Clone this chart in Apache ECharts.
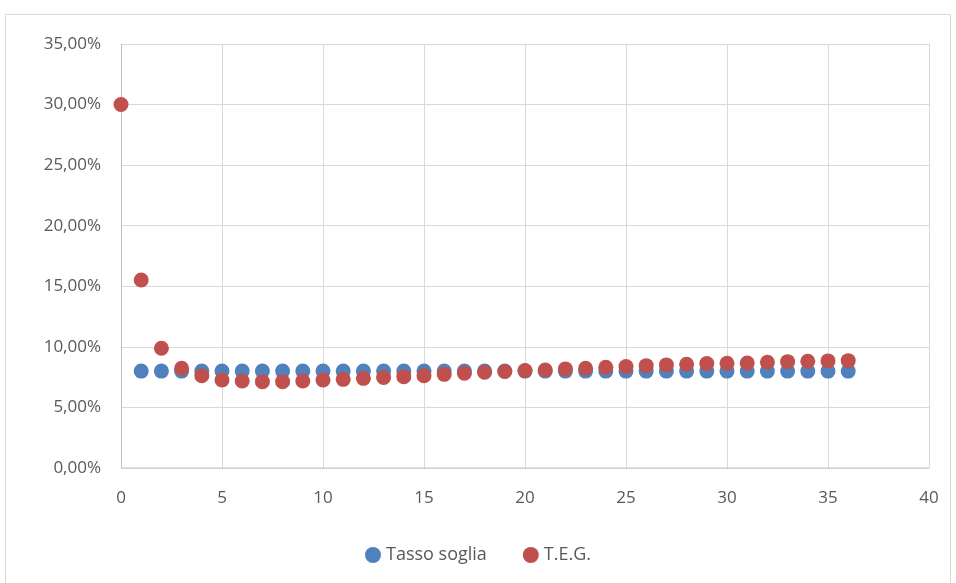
<!DOCTYPE html>
<html><head><meta charset="utf-8">
<script src="https://cdn.jsdelivr.net/npm/echarts@6/dist/echarts.min.js"></script>
<style>html,body{margin:0;padding:0;background:#fff}#c{width:956px;height:583px}</style>
</head><body><div id="c"></div>
<script>
const xTasso = [1,2,3,4,5,6,7,8,9,10,11,12,13,14,15,16,17,18,19,20,21,22,23,24,25,26,27,28,29,30,31,32,33,34,35,36];
const tassoSoglia = [8,8,8,8,8,8,8,8,8,8,8,8,8,8,8,8,8,8,8,8,8,8,8,8,8,8,8,8,8,8,8,8,8,8,8,8];
const xTeg = [0,1,2,3,4,5,6,7,8,9,10,11,12,13,14,15,16,17,18,19,20,21,22,23,24,25,26,27,28,29,30,31,32,33,34,35,36];
const teg = [30,15.52,9.88,8.23,7.62,7.27,7.18,7.13,7.13,7.18,7.27,7.32,7.40,7.47,7.54,7.62,7.73,7.82,7.90,7.96,8.04,8.09,8.18,8.23,8.31,8.37,8.45,8.51,8.56,8.62,8.64,8.67,8.73,8.78,8.81,8.84,8.86];
const seriesNames = ['Tasso soglia','T.E.G.'];
const FONT = '"Open Sans", "Noto Sans", sans-serif';
const chart = echarts.init(document.getElementById('c'));
chart.setOption({
  animation:false,
  graphic:[{type:'rect',shape:{x:5.5,y:14.5,width:945,height:575},style:{fill:'none',stroke:'#d9d9d9',lineWidth:1},silent:true}],
  grid:{left:121,right:27,top:44,bottom:115},
  legend:{bottom:14,left:'center',itemWidth:16,itemHeight:16,itemGap:36,icon:'circle',
    textStyle:{fontFamily:FONT,fontSize:18,color:'#595959'},data:seriesNames},
  xAxis:{type:'value',min:0,max:40,interval:5,
    axisLine:{show:false},axisTick:{show:false},
    splitLine:{show:true,lineStyle:{color:'#d9d9d9',width:1}},
    axisLabel:{fontFamily:FONT,fontSize:17,color:'#595959',margin:22}},
  yAxis:{type:'value',min:0,max:35,interval:5,
    axisLine:{show:true,lineStyle:{color:'#bfbfbf',width:1}},axisTick:{show:false},
    splitLine:{show:true,lineStyle:{color:'#d9d9d9',width:1}},
    axisLabel:{fontFamily:FONT,fontSize:17,color:'#595959',margin:20,
      formatter:v=>v.toFixed(2).replace('.',',')+'%'}},
  series:[
    {name:seriesNames[0],type:'scatter',symbolSize:15,itemStyle:{color:'#4F81BD',opacity:1},
     data:xTasso.map((x,i)=>[x,tassoSoglia[i]])},
    {name:seriesNames[1],type:'scatter',symbolSize:15,itemStyle:{color:'#C0504D',opacity:1},
     data:xTeg.map((x,i)=>[x,teg[i]])},
    {type:'line',data:[[0,0],[40,0]],symbol:'none',silent:true,lineStyle:{color:'#bfbfbf',width:1},z:1,legendHoverLink:false}
  ]
});
</script></body></html>
